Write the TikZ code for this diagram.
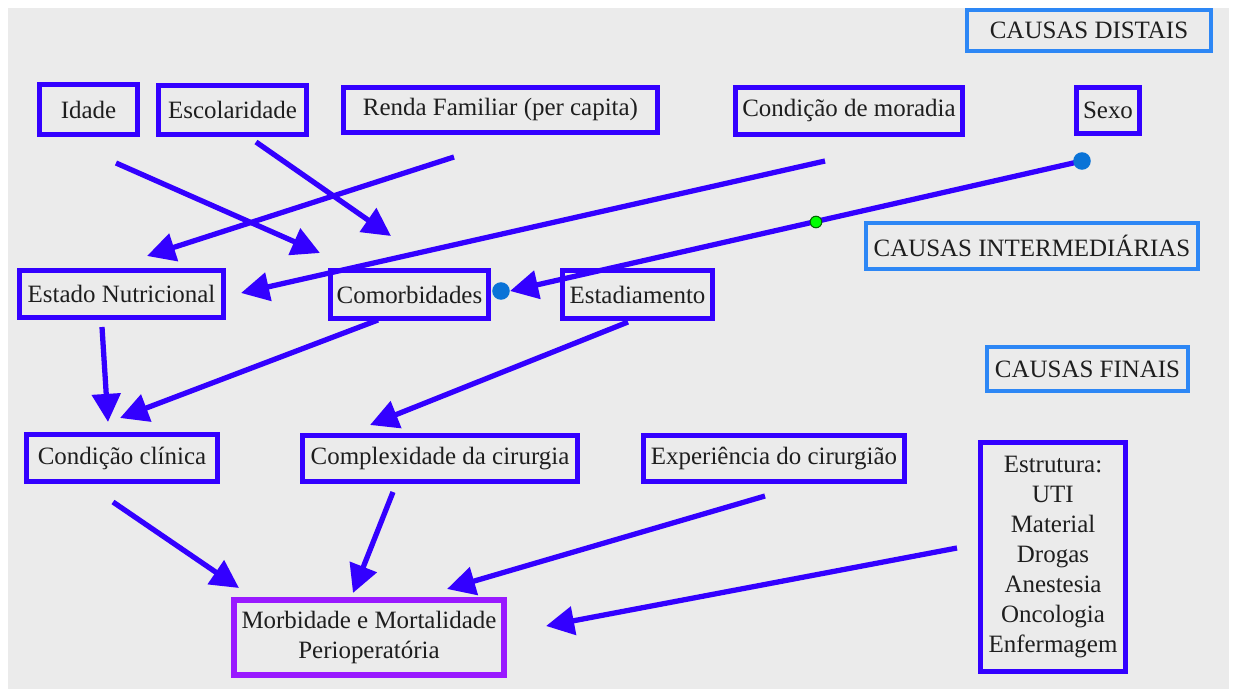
\documentclass[tikz,border=0pt]{standalone}
\usepackage{fontspec}
\setmainfont{Liberation Serif}
\usetikzlibrary{arrows.meta}

\definecolor{boxblue}{RGB}{51,0,255}
\definecolor{levelblue}{RGB}{45,135,245}
\definecolor{outpurple}{RGB}{153,25,255}
\definecolor{panelgray}{RGB}{235,235,235}
\definecolor{dotblue}{RGB}{10,115,215}
\definecolor{textgray}{RGB}{30,30,30}

\tikzset{
  factor/.style={draw=boxblue, line width=2.8pt, text=textgray, inner sep=0pt, align=center,
    font=\fontsize{14.2}{17}\selectfont},
  level/.style={factor, draw=levelblue, line width=2.3pt},
  outcome/.style={factor, draw=outpurple, line width=3.4pt},
  causal/.style={draw=boxblue, line width=3pt, -{Triangle[length=16pt,width=16pt]}},
}

\begin{document}
\begin{tikzpicture}[x=0.02cm, y=-0.02cm]

\useasboundingbox (0,0) rectangle (1234,689);
\fill[white] (0,0) rectangle (1234,689);
\fill[panelgray] (8,8) rectangle (1229,689);

% Level labels
\node[level, minimum width=4.88cm, minimum height=0.82cm] (distais) at (1089,30.5) {CAUSAS DISTAIS};
\node[level, minimum width=6.64cm, minimum height=0.92cm] (intermed) at (1032,246) {CAUSAS INTERMEDIÁRIAS};
\node[level, minimum width=4.02cm, minimum height=0.88cm] (finais) at (1087.5,369) {CAUSAS FINAIS};

% Distal causes
\node[factor, minimum width=1.96cm, minimum height=1.0cm] (idade) at (88.5,109.5) {Idade};
\node[factor, minimum width=2.96cm, minimum height=0.98cm] (escolaridade) at (232.5,110) {Escolaridade};
\node[factor, minimum width=6.28cm, minimum height=0.9cm] (renda) at (500.5,110) {Renda Familiar (per capita)};
\node[factor, minimum width=4.54cm, minimum height=0.94cm] (moradia) at (849,111) {Condição de moradia};
\node[factor, minimum width=1.26cm, minimum height=0.92cm] (sexo) at (1108,110.5) {Sexo};

% Intermediate causes
\node[factor, minimum width=4.08cm, minimum height=0.94cm] (nutricional) at (121.5,294) {Estado Nutricional};
\node[factor, minimum width=3.16cm, minimum height=0.96cm] (comorbidades) at (409.5,294.5) {Comorbidades};
\node[factor, minimum width=3.0cm, minimum height=0.96cm] (estadiamento) at (637.5,294.5) {Estadiamento};

% Final causes
\node[factor, minimum width=3.82cm, minimum height=0.94cm] (clinica) at (122,458) {Condição clínica};
\node[factor, minimum width=5.5cm, minimum height=0.92cm] (complexidade) at (440,458.5) {Complexidade da cirurgia};
\node[factor, minimum width=5.22cm, minimum height=0.92cm] (experiencia) at (774,458.5) {Experiência do cirurgião};
\node[factor, minimum width=2.9cm, minimum height=4.58cm] (estrutura) at (1053,557)
  {Estrutura:\\UTI\\Material\\Drogas\\Anestesia\\Oncologia\\Enfermagem};

% Outcome
\node[outcome, minimum width=5.4cm, minimum height=1.5cm] (morbidade) at (369,637.5)
  {Morbidade e Mortalidade\\Perioperatória};

% Arrow ends
\coordinate (idade-from) at (116,163);          \coordinate (idade-to) at (320,253);
\coordinate (escolaridade-from) at (256,142);   \coordinate (escolaridade-to) at (391,236);
\coordinate (renda-from) at (454,157);          \coordinate (renda-to) at (147,256);
\coordinate (moradia-from) at (825,161);        \coordinate (moradia-to) at (241,293);
\coordinate (sexo-from) at (1082,161);          \coordinate (sexo-mid) at (816,222);
\coordinate (sexo-to) at (510,291);             \coordinate (sexo-end) at (501,291);
\coordinate (nutricional-from) at (102,327);    \coordinate (nutricional-to) at (108,422);
\coordinate (comorbidades-from) at (378,320);   \coordinate (comorbidades-to) at (120,418);
\coordinate (estadiamento-from) at (628,322);   \coordinate (estadiamento-to) at (370,425);
\coordinate (clinica-from) at (113,502);        \coordinate (clinica-to) at (239,588);
\coordinate (complexidade-from) at (393,492);   \coordinate (complexidade-to) at (353,593);
\coordinate (experiencia-from) at (765,496);    \coordinate (experiencia-to) at (447,589);
\coordinate (estrutura-from) at (957,548);      \coordinate (estrutura-to) at (546,626);

% Causal arrows
\draw[causal] (idade-from) -- (idade-to);
\draw[causal] (escolaridade-from) -- (escolaridade-to);
\draw[causal] (renda-from) -- (renda-to);
\draw[causal] (moradia-from) -- (moradia-to);
\draw[causal] (sexo-from) -- (sexo-to);
\draw[causal] (nutricional-from) -- (nutricional-to);
\draw[causal] (comorbidades-from) -- (comorbidades-to);
\draw[causal] (estadiamento-from) -- (estadiamento-to);
\draw[causal] (clinica-from) -- (clinica-to);
\draw[causal] (complexidade-from) -- (complexidade-to);
\draw[causal] (experiencia-from) -- (experiencia-to);
\draw[causal] (estrutura-from) -- (estrutura-to);

% Sexo line points
\fill[dotblue] (sexo-from) circle (5pt);
\fill[dotblue] (sexo-end) circle (5pt);
\filldraw[fill=green, draw=black!60!green, line width=0.6pt] (sexo-mid) circle (3.3pt);

\end{tikzpicture}
\end{document}
